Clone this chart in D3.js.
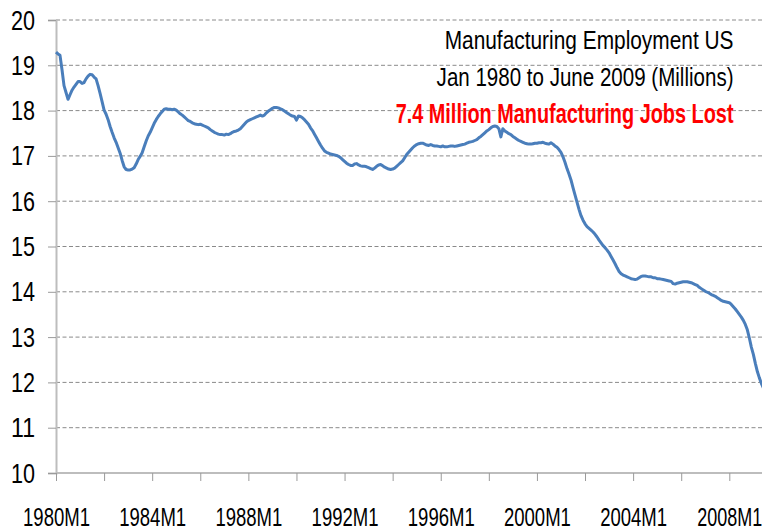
<!DOCTYPE html>
<html><head><meta charset="utf-8">
<script src="https://cdn.jsdelivr.net/npm/d3@7/dist/d3.min.js"></script>
<style>html,body{margin:0;padding:0;background:#fff;}svg{display:block;}</style>
</head><body>
<script>
// Monthly US manufacturing employment (millions), 1980M1 .. 2009M6
const values1980s = [
  19.29,19.25,19.22,18.90,18.55,18.40,18.25,18.35,18.45,18.52,18.58,18.64, // 1980
  18.64,18.60,18.62,18.70,18.76,18.80,18.79,18.74,18.70,18.55,18.38,18.20, // 1981
  18.01,17.92,17.80,17.65,17.52,17.40,17.30,17.18,17.06,16.90,16.76,16.70, // 1982
  16.69,16.69,16.71,16.74,16.82,16.92,16.99,17.07,17.20,17.33,17.44,17.52, // 1983
  17.62,17.72,17.80,17.87,17.93,17.98,18.03,18.04,18.03,18.03,18.02,18.03, // 1984
  18.01,17.97,17.93,17.90,17.86,17.82,17.78,17.76,17.73,17.71,17.70,17.69, // 1985
  17.70,17.68,17.66,17.64,17.62,17.58,17.55,17.52,17.50,17.48,17.47,17.47, // 1986
  17.46,17.48,17.47,17.49,17.52,17.54,17.55,17.57,17.60,17.65,17.70,17.75, // 1987
  17.78,17.80,17.82,17.84,17.86,17.88,17.90,17.88,17.90,17.95,17.99,18.02, // 1988
  18.05,18.07,18.07,18.06,18.04,18.02,17.99,17.96,17.93,17.90,17.88,17.87  // 1989
];
const values1990s = [
  17.79,17.88,17.87,17.84,17.80,17.75,17.70,17.62,17.56,17.48,17.40,17.32, // 1990
  17.24,17.17,17.11,17.08,17.06,17.04,17.03,17.02,17.01,16.99,16.96,16.92, // 1991
  16.88,16.84,16.81,16.79,16.79,16.82,16.83,16.80,16.78,16.77,16.77,16.76, // 1992
  16.74,16.72,16.70,16.73,16.77,16.80,16.81,16.78,16.75,16.73,16.71,16.70, // 1993
  16.71,16.73,16.77,16.81,16.85,16.89,16.96,17.03,17.08,17.13,17.18,17.22, // 1994
  17.25,17.27,17.28,17.28,17.26,17.24,17.23,17.25,17.23,17.22,17.22,17.21, // 1995
  17.20,17.22,17.20,17.20,17.21,17.22,17.22,17.21,17.22,17.23,17.24,17.25, // 1996
  17.26,17.28,17.30,17.31,17.32,17.34,17.36,17.40,17.43,17.47,17.51,17.55, // 1997
  17.58,17.62,17.65,17.66,17.65,17.60,17.42,17.60,17.55,17.52,17.49,17.47, // 1998
  17.43,17.40,17.37,17.34,17.32,17.30,17.28,17.27,17.26,17.26,17.27,17.28  // 1999
];
const values2000s = [
  17.28,17.29,17.29,17.30,17.28,17.27,17.26,17.29,17.26,17.22,17.19,17.14, // 2000
  17.08,16.98,16.86,16.72,16.60,16.47,16.30,16.14,15.98,15.82,15.68,15.58, // 2001
  15.50,15.44,15.40,15.36,15.32,15.27,15.21,15.14,15.08,15.02,14.97,14.92, // 2002
  14.86,14.78,14.70,14.62,14.53,14.45,14.40,14.37,14.35,14.33,14.31,14.29, // 2003
  14.28,14.27,14.28,14.31,14.34,14.35,14.35,14.34,14.33,14.33,14.31,14.31, // 2004
  14.29,14.29,14.28,14.27,14.26,14.25,14.24,14.23,14.18,14.17,14.19,14.20, // 2005
  14.21,14.22,14.22,14.22,14.21,14.20,14.18,14.16,14.14,14.10,14.07,14.04, // 2006
  14.01,13.99,13.97,13.94,13.92,13.90,13.87,13.84,13.81,13.79,13.78,13.77, // 2007
  13.76,13.72,13.67,13.62,13.56,13.50,13.44,13.37,13.28,13.16,12.98,12.78, // 2008
  12.62,12.42,12.24,12.10,11.98,11.88                                       // 2009 H1
];
const yTicks = [10,11,12,13,14,15,16,17,18,19,20];
const xLabelYears = [1980,1984,1988,1992,1996,2000,2004,2008];
const titleLines = ["Manufacturing Employment US", "Jan 1980 to June 2009 (Millions)"];
const highlight = "7.4 Million Manufacturing Jobs Lost";

const values = values1980s.concat(values1990s, values2000s);
const months = values.map((v, i) => {
  const y = 1980 + Math.floor(i / 12), m = (i % 12) + 1;
  return {label: y + "M" + m, year: y, month: m, i, v};
});

const W = 762, H = 531;
const svg = d3.select("body").append("svg").attr("width", W).attr("height", H);

const x = d3.scaleLinear().domain([0, 336]).range([56, 729.3]);
const y = d3.scaleLinear().domain([10, 20]).range([473, 20]);
const FONT = "'Liberation Sans', Arial, sans-serif";

// narrow (Calibri-like) look: scale text horizontally to a target width
function fitWidth(sel, target, anchorX, baseY) {
  sel.each(function() {
    const t = d3.select(this);
    const w = this.getComputedTextLength();
    const sx = target / w;
    t.attr("x", 0).attr("y", 0)
     .attr("transform", `translate(${anchorX},${baseY}) scale(${sx},1)`);
  });
}

// gridlines
svg.append("g").selectAll("line").data(yTicks.filter(t => t > 10)).join("line")
  .attr("x1", 56).attr("x2", W)
  .attr("y1", d => y(d)).attr("y2", d => y(d))
  .attr("stroke", "#8a8a8a").attr("stroke-width", 1).attr("stroke-dasharray", "4,2.5");

// y axis
const yAxis = d3.axisLeft(y).tickValues(yTicks).tickSize(8).tickFormat(d => d);
const gy = svg.append("g").attr("transform", "translate(56,0)").call(yAxis);
gy.select(".domain").attr("stroke", "#bdbdbd").attr("stroke-width", 2);
gy.selectAll(".tick line").attr("stroke", "#9a9a9a").attr("stroke-width", 1);
gy.selectAll(".tick text").attr("dy", null)
  .attr("font-family", FONT).attr("font-size", 28).attr("fill", "#000")
  .attr("text-anchor", "end")
  .each(function() { fitWidth(d3.select(this), 24, -21, 9); });

// x axis
const tickIdx = months.filter(d => d.month === 1 && (d.year - 1980) % 2 === 0).map(d => d.i);
const xAxis = d3.axisBottom(x).tickValues(tickIdx).tickSize(8)
  .tickFormat(i => { const d = months[i]; return xLabelYears.includes(d.year) ? d.label : ""; });
const gx = svg.append("g").attr("transform", "translate(0,473)").call(xAxis);
gx.select(".domain").attr("stroke", "#bdbdbd").attr("stroke-width", 2).attr("d", `M56,0H${W}`);
gx.selectAll(".tick line").attr("stroke", "#9a9a9a").attr("stroke-width", 1);
gx.selectAll(".tick text").attr("dy", null)
  .attr("font-family", FONT).attr("font-size", 26).attr("fill", "#000")
  .attr("text-anchor", "middle")
  .each(function(i) {
    if (xLabelYears.includes(months[i].year)) fitWidth(d3.select(this), i === 336 ? 65 : 67, 0, 53);
  });

// line
const line = d3.line().x(d => x(d.i)).y(d => y(d.v));
svg.append("path").datum(months)
  .attr("d", line).attr("fill", "none")
  .attr("stroke", "#4a7ebb").attr("stroke-width", 3).attr("stroke-linejoin", "round");

// titles
const tl = [{t: titleLines[0], yb: 48.5, len: 289, bold: false, col: "#000", fs: 26.5},
            {t: titleLines[1], yb: 85.5, len: 297, bold: false, col: "#000", fs: 26.5},
            {t: highlight, yb: 123.3, len: 338, bold: true, col: "#ff0000", fs: 27.5}];
svg.append("g").selectAll("text").data(tl).join("text")
  .attr("text-anchor", "end")
  .attr("font-family", FONT).attr("font-size", d => d.fs)
  .attr("font-weight", d => d.bold ? "bold" : "normal")
  .attr("fill", d => d.col)
  .text(d => d.t)
  .each(function(d) { fitWidth(d3.select(this), d.len, 733.5, d.yb); });
</script>
</body></html>
